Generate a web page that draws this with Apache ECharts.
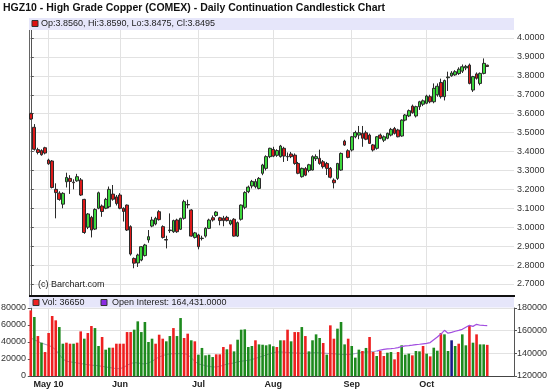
<!DOCTYPE html>
<html><head><meta charset="utf-8">
<script src="https://cdn.jsdelivr.net/npm/echarts@6/dist/echarts.min.js"></script>
<style>html,body{margin:0;padding:0;background:#fff}#c{width:550px;height:391px}</style>
</head><body><div id="c"></div><script>
// ---- data ----
const dates = [
'2010-04-26','2010-04-27','2010-04-28','2010-04-29','2010-04-30',
'2010-05-03','2010-05-04','2010-05-05','2010-05-06','2010-05-07','2010-05-10','2010-05-11','2010-05-12','2010-05-13','2010-05-14',
'2010-05-17','2010-05-18','2010-05-19','2010-05-20','2010-05-21','2010-05-24','2010-05-25','2010-05-26','2010-05-27','2010-05-28',
'2010-06-01','2010-06-02','2010-06-03','2010-06-04','2010-06-07','2010-06-08','2010-06-09','2010-06-10','2010-06-11','2010-06-14',
'2010-06-15','2010-06-16','2010-06-17','2010-06-18','2010-06-21','2010-06-22','2010-06-23','2010-06-24','2010-06-25','2010-06-28',
'2010-06-29','2010-06-30',
'2010-07-01','2010-07-02','2010-07-06','2010-07-07','2010-07-08','2010-07-09','2010-07-12','2010-07-13','2010-07-14','2010-07-15',
'2010-07-16','2010-07-19','2010-07-20','2010-07-21','2010-07-22','2010-07-23','2010-07-26','2010-07-27','2010-07-28','2010-07-29','2010-07-30',
'2010-08-02','2010-08-03','2010-08-04','2010-08-05','2010-08-06','2010-08-09','2010-08-10','2010-08-11','2010-08-12','2010-08-13',
'2010-08-16','2010-08-17','2010-08-18','2010-08-19','2010-08-20','2010-08-23','2010-08-24','2010-08-25','2010-08-26','2010-08-27',
'2010-08-30','2010-08-31',
'2010-09-01','2010-09-02','2010-09-03','2010-09-07','2010-09-08','2010-09-09','2010-09-10','2010-09-13','2010-09-14','2010-09-15',
'2010-09-16','2010-09-17','2010-09-20','2010-09-21','2010-09-22','2010-09-23','2010-09-24','2010-09-27','2010-09-28','2010-09-29','2010-09-30',
'2010-10-01','2010-10-04','2010-10-05','2010-10-06','2010-10-07','2010-10-08','2010-10-11','2010-10-12','2010-10-13','2010-10-14',
'2010-10-15','2010-10-18','2010-10-19','2010-10-20','2010-10-21','2010-10-22','2010-10-25','2010-10-26',
'2010-10-27','2010-10-28','2010-10-29','2010-11-01','2010-11-02','2010-11-03','2010-11-04'
];
const opens = [3.600,3.528,3.410,3.405,3.420,3.355,3.350,3.200,3.180,3.122,3.240,3.258,3.238,3.245,3.250,3.147,3.000,3.052,2.990,3.100,
3.112,3.100,3.108,3.175,3.160,3.170,3.100,3.117,3.003,2.835,2.811,2.827,2.850,2.933,3.006,3.017,3.082,3.003,2.935,2.982,
2.976,3.038,2.989,3.047,3.120,3.091,2.946,2.959,2.940,2.953,2.994,3.050,3.062,3.050,3.048,3.052,3.017,3.042,2.953,3.042,
3.105,3.188,3.218,3.214,3.205,3.285,3.311,3.373,3.411,3.380,3.373,3.417,3.372,3.387,3.381,3.337,3.267,3.310,3.300,3.302,
3.362,3.364,3.346,3.337,3.311,3.249,3.258,3.302,3.455,3.404,3.408,3.478,3.487,3.496,3.499,3.487,3.435,3.417,3.487,3.460,
3.470,3.487,3.522,3.514,3.482,3.566,3.588,3.640,3.588,3.637,3.650,3.655,3.690,3.663,3.700,3.765,3.690,3.790,3.800,3.805,
3.812,3.825,3.842,3.857,3.725,3.810,3.760,3.813,3.856];
const highs = [3.605,3.545,3.420,3.412,3.425,3.362,3.355,3.232,3.190,3.185,3.288,3.275,3.253,3.282,3.260,3.150,3.075,3.060,3.100,3.188,
3.120,3.155,3.215,3.223,3.170,3.180,3.105,3.120,3.010,2.840,2.860,2.900,2.912,2.985,3.055,3.055,3.090,3.010,2.955,3.073,
3.040,3.045,3.050,3.145,3.145,3.095,2.975,2.965,2.955,3.000,3.045,3.062,3.085,3.055,3.060,3.060,3.040,3.048,3.030,3.120,
3.190,3.220,3.250,3.255,3.265,3.335,3.380,3.420,3.425,3.412,3.435,3.425,3.395,3.398,3.390,3.345,3.315,3.318,3.335,3.380,
3.385,3.410,3.355,3.345,3.318,3.258,3.340,3.395,3.462,3.412,3.482,3.510,3.535,3.535,3.510,3.495,3.440,3.482,3.495,3.485,
3.500,3.525,3.530,3.520,3.570,3.598,3.622,3.648,3.642,3.668,3.675,3.700,3.700,3.760,3.760,3.785,3.780,3.822,3.825,3.830,
3.845,3.860,3.858,3.865,3.800,3.818,3.818,3.892,3.859];
const lows = [3.568,3.405,3.385,3.378,3.385,3.330,3.205,3.047,3.140,3.100,3.210,3.176,3.200,3.240,3.165,2.965,2.990,2.946,2.985,3.095,
3.055,3.095,3.100,3.140,3.115,3.095,3.030,2.980,2.850,2.783,2.790,2.820,2.845,2.918,3.000,3.010,3.035,2.940,2.888,2.970,
2.970,2.970,2.985,3.040,3.100,2.950,2.940,2.883,2.930,2.945,2.990,3.030,3.055,3.010,3.005,3.030,3.010,2.950,2.948,3.035,
3.095,3.180,3.205,3.205,3.200,3.275,3.300,3.365,3.370,3.372,3.368,3.345,3.350,3.365,3.330,3.280,3.262,3.270,3.290,3.300,
3.350,3.330,3.310,3.276,3.258,3.205,3.250,3.298,3.430,3.364,3.400,3.470,3.465,3.425,3.460,3.440,3.400,3.410,3.465,3.450,
3.465,3.480,3.490,3.475,3.478,3.560,3.582,3.600,3.580,3.620,3.640,3.650,3.655,3.655,3.690,3.680,3.670,3.720,3.795,3.800,
3.805,3.815,3.830,3.755,3.715,3.780,3.750,3.808,3.8475];
const closes = [3.572,3.412,3.395,3.383,3.392,3.335,3.210,3.183,3.147,3.179,3.263,3.242,3.235,3.267,3.170,2.972,3.070,2.985,3.094,3.182,
3.083,3.147,3.200,3.148,3.125,3.100,3.083,2.985,2.858,2.810,2.853,2.897,2.906,2.950,3.038,3.047,3.040,2.946,2.932,2.985,
3.035,2.976,3.047,3.135,3.118,2.953,2.970,2.897,2.942,2.994,3.038,3.038,3.080,3.035,3.035,3.035,3.035,2.953,3.024,3.117,
3.183,3.212,3.242,3.241,3.258,3.329,3.373,3.417,3.376,3.405,3.429,3.376,3.374,3.373,3.337,3.285,3.311,3.275,3.330,3.373,
3.373,3.337,3.320,3.311,3.264,3.235,3.337,3.390,3.434,3.369,3.478,3.500,3.499,3.470,3.465,3.443,3.408,3.478,3.470,3.478,
3.496,3.517,3.496,3.478,3.566,3.593,3.616,3.605,3.637,3.663,3.668,3.693,3.663,3.734,3.745,3.690,3.775,3.794,3.815,3.822,
3.835,3.848,3.850,3.760,3.796,3.787,3.813,3.866,3.8495];
const volumes = [77200,69400,47000,39200,28200,50600,70600,65500,57600,38000,39200,38000,38000,39200,52500,43900,50600,58800,56400,35300,
45900,31000,33300,33300,38000,38000,38000,51700,51700,54500,64300,51700,63500,40000,43900,38000,48600,43900,40800,47000,
56400,47000,68200,44700,49800,42000,40800,25100,33000,24300,25100,22300,25500,25500,34100,31400,37200,29000,42700,54500,
54900,34100,35300,42000,37200,36800,36100,37200,35000,34100,42000,42000,54500,40800,51700,51700,57600,47000,29000,42000,
49000,44700,38800,25100,59600,43900,55700,63500,37200,43900,35300,21600,31000,29400,33000,45900,28200,23500,29400,23500,
27400,28200,19600,28200,36100,25100,26300,24300,29400,29000,35300,26300,23100,33300,29800,50600,49000,29400,42000,35300,
38000,49000,36100,58800,39200,49000,37200,37200,36650];
const volumeDirection = ['d','u','d','u','d','d','d','d','u','u','d','d','u','d','d','u','d','d','u','u',
'd','u','u','d','d','d','d','d','d','u','u','u','u','u','u','d','d','d','u','u',
'd','u','u','d','d','u','d','u','u','u','u','u','d','d','d','u','d','u','u','u',
'u','u','u','d','u','u','u','u','u','d','u','d','d','u','d','d','u','d','u','u',
'u','u','d','u','d','d','u','u','u','d','u','u','u','d','u','d','d','u','d','d',
'u','u','d','d','u','u','u','d','u','u','d','u','d','u','u','d','u','u','n','u',
'd','u','u','d','u','d','u','u','d'];
const openInterest = [153500,152000,150500,149000,148000,147000,145600,143000,139000,135000,133000,132500,132000,131500,131000,130500,130000,129500,129400,129000,
128500,128000,127500,127000,126500,126500,127500,129500,131000,131800,131500,131000,130600,131500,133000,135000,136800,138000,139000,139500,
139700,139700,139800,139700,139000,136000,133000,130500,130000,129000,128500,128000,128000,128500,129500,130500,131000,131500,132500,133000,
133500,133800,134500,135500,136500,137500,138500,139700,140500,141200,141200,141000,140800,140500,140300,140200,140000,140000,140200,140500,
140600,140400,140200,140000,139800,139600,139300,139000,138900,138900,139200,139800,140400,140800,141200,141200,141500,142000,142800,143500,
144000,144200,144500,145000,146000,146500,146800,147200,147700,148000,148400,148800,149500,152000,154400,157000,160300,157800,158500,159500,
160300,161200,163000,164700,163800,165600,164800,164600,164431];
const oiCurrentFrom = 97;   // index where the current-contract (purple) open interest begins
const monthStarts = [5,25,47,68,90,111];
const monthLabels = ['May 10','Jun','Jul','Aug','Sep','Oct'];
const priceTicks = [2.7,2.8,2.9,3.0,3.1,3.2,3.3,3.4,3.5,3.6,3.7,3.8,3.9,4.0];
const volumeTicks = [0,20000,40000,60000,80000];
const oiTicks = [120000,140000,160000,180000];

// ---- build ----
const FONT = '"Liberation Sans", Arial, sans-serif';
const candleData = opens.map((o,i)=>[o, closes[i], lows[i], highs[i]]);
const volColors = {u:'#1e8a1e', d:'#ee2020', n:'#1a1a8a'};
const volData = volumes.map((v,i)=>({value:v, itemStyle:{color:volColors[volumeDirection[i]]}}));
const oiOld = openInterest.map((v,i)=> i<=oiCurrentFrom ? v : null);
const oiNew = openInterest.map((v,i)=> i>=oiCurrentFrom ? v : null);
const n = closes.length-1;
const fmt4 = v => Number(v).toFixed(4);
const plain = v => String(Math.round(v));
const priceLegend = 'Op:'+fmt4(opens[n])+', Hi:'+fmt4(highs[n])+', Lo:'+fmt4(lows[n])+', Cl:'+fmt4(closes[n]);
const volLegend = 'Vol: '+volumes[n];
const oiLegend = 'Open Interest: '+openInterest[n].toLocaleString('en-US')+'.0000';

const chart = echarts.init(document.getElementById('c'), null, {renderer:'canvas'});
const gridLine = {show:true, lineStyle:{color:'#e2e2e2', width:1}};
const axisText = {fontSize:9, color:'#333', fontFamily:FONT};
chart.setOption({
  animation:false,
  backgroundColor:'#fff',
  grid:[
    {left:29, top:30, width:485, height:265, outerBoundsMode:'none'},
    {left:29, top:308, width:485, height:68, outerBoundsMode:'none'}
  ],
  xAxis:[
    {type:'category', gridIndex:0, data:dates, boundaryGap:true, show:false},
    {type:'value', gridIndex:0, min:-0.5, max:dates.length-0.5,
      axisLine:{show:false}, axisTick:{show:false, customValues:monthStarts},
      axisLabel:{show:false, customValues:monthStarts}, splitLine:gridLine},
    {type:'category', gridIndex:1, data:dates, boundaryGap:true, show:false},
    {type:'value', gridIndex:1, min:-0.5, max:dates.length-0.5, position:'bottom',
      axisLine:{show:true, onZero:false, lineStyle:{color:'#444'}},
      axisTick:{show:false, customValues:monthStarts},
      axisLabel:Object.assign({customValues:monthStarts, margin:4, fontWeight:'bold',
        formatter:v=>monthLabels[monthStarts.indexOf(Math.round(v))]||''}, axisText, {color:'#222'}),
      splitLine:gridLine}
  ],
  yAxis:[
    {type:'value', gridIndex:0, position:'right', min:2.6417, max:4.0423, scale:true,
      axisLine:{show:true, lineStyle:{color:'#555'}},
      axisTick:{show:true, length:3, customValues:priceTicks, lineStyle:{color:'#555'}},
      axisLabel:Object.assign({customValues:priceTicks, margin:3, formatter:v=>fmt4(v)}, axisText),
      splitLine:gridLine},
    {type:'value', gridIndex:0, position:'left', min:2.6417, max:4.0423,
      axisLine:{show:true, lineStyle:{color:'#666'}}, axisTick:{show:false}, axisLabel:{show:false}, splitLine:{show:false}},
    {type:'value', gridIndex:1, position:'left', min:0, max:80000, interval:20000,
      axisLine:{show:true, lineStyle:{color:'#555'}}, axisTick:{show:true, length:3, lineStyle:{color:'#555'}},
      axisLabel:Object.assign({margin:3, formatter:plain, customValues:volumeTicks}, axisText), splitLine:{show:false}},
    {type:'value', gridIndex:1, position:'right', min:120000, max:180000, interval:20000,
      axisLine:{show:true, lineStyle:{color:'#555'}}, axisTick:{show:true, length:3, lineStyle:{color:'#555'}},
      axisLabel:Object.assign({margin:3, formatter:plain, customValues:oiTicks}, axisText), splitLine:gridLine}
  ],
  series:[
    {type:'candlestick', xAxisIndex:0, yAxisIndex:0, data:candleData, barWidth:3.2,
      itemStyle:{color:'#3cd83c', color0:'#dd1a1a', borderColor:'#2a2a2a', borderColor0:'#2a2a2a', borderWidth:1},
      markLine:{symbol:['none','none'], silent:true, animation:false,
        lineStyle:{opacity:0},
        label:{show:true, position:'end', distance:3, formatter:()=>fmt4(closes[n]),
          backgroundColor:'#000', color:'#fff', fontSize:9, fontFamily:FONT, padding:[1,1,0,1]},
        data:[{yAxis:closes[n]}]}},
    {type:'line', xAxisIndex:2, yAxisIndex:3, data:oiOld, showSymbol:false, z:1,
      lineStyle:{color:'#9a9ac0', width:1}},
    {type:'bar', xAxisIndex:2, yAxisIndex:2, data:volData, barWidth:2.6, z:2},
    {type:'line', xAxisIndex:2, yAxisIndex:3, data:oiNew, showSymbol:false, z:3,
      lineStyle:{color:'#a24fe0', width:1.2}}
  ],
  graphic:[
    {type:'text', left:3, top:3, style:{text:'HGZ10 - High Grade Copper (COMEX) - Daily Continuation Candlestick Chart',
      font:'bold 10.5px '+FONT, fill:'#111'}},
    {type:'rect', shape:{x:29, y:18, width:485, height:12}, style:{fill:'#e6e6fa'}, z:10},
    {type:'rect', shape:{x:32, y:20.5, width:6, height:6}, style:{fill:'#dd1111', stroke:'#333', lineWidth:1}, z:11},
    {type:'text', x:41, y:24, style:{text:priceLegend, font:'9px '+FONT, fill:'#222', verticalAlign:'middle'}, z:11},
    {type:'text', x:38, y:285, style:{text:'(c) Barchart.com', font:'9px '+FONT, fill:'#222', verticalAlign:'middle'}, z:11},
    {type:'line', shape:{x1:29, y1:296, x2:515, y2:296}, style:{stroke:'#111', lineWidth:2}, z:12},
    {type:'rect', shape:{x:29, y:297, width:485, height:10.5}, style:{fill:'#e6e6fa'}, z:10},
    {type:'rect', shape:{x:33, y:299.5, width:6, height:6}, style:{fill:'#ee2020', stroke:'#333', lineWidth:1}, z:11},
    {type:'text', x:42, y:302.5, style:{text:volLegend, font:'9px '+FONT, fill:'#222', verticalAlign:'middle'}, z:11},
    {type:'rect', shape:{x:101, y:299.5, width:6, height:6}, style:{fill:'#8a2be2', stroke:'#333', lineWidth:1}, z:11},
    {type:'text', x:112, y:302.5, style:{text:oiLegend, font:'9px '+FONT, fill:'#222', verticalAlign:'middle'}, z:11}
  ]
});
</script></body></html>
